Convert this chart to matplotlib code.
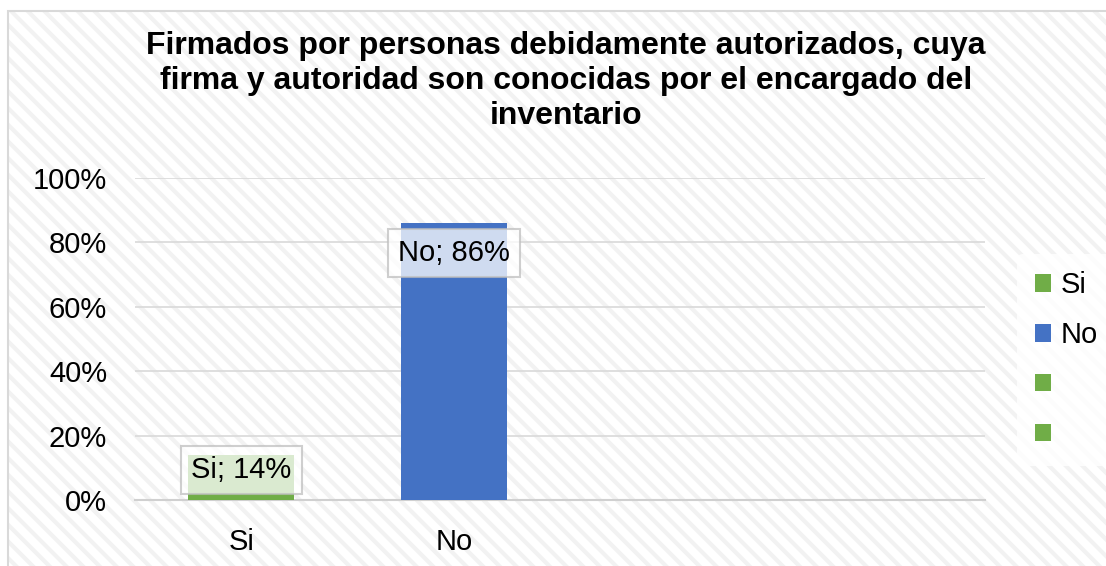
import numpy as np
import matplotlib
matplotlib.use("Agg")
import matplotlib.pyplot as plt
from matplotlib.patches import Rectangle, Patch

plt.rcParams["font.family"] = ["Liberation Sans", "DejaVu Sans"]
plt.rcParams["hatch.linewidth"] = 3.0

# ── datos ─────────────────────────────────────────────
categories = ["Si", "No", "", ""]
values = [0.14, 0.86, 0.0, 0.0]
bar_colors = ["#70AD47", "#4472C4", "#70AD47", "#70AD47"]
data_labels = ["Si; 14%", "No; 86%", None, None]
legend_labels = ["Si", "No", "", ""]
yticks = [0, 0.2, 0.4, 0.6, 0.8, 1.0]
title = ("Firmados por personas debidamente autorizados, cuya\n"
         "firma y autoridad son conocidas por el encargado del\n"
         "inventario")

W, H = 1106, 566
FS = 21
fig = plt.figure(figsize=(W / 100, H / 100), dpi=100)
fig.patch.set_facecolor("white")

# fondo rayado + borde
bg = Rectangle((8 / W, 0), 1.0, 1 - 11 / H, transform=fig.transFigure,
               facecolor="white", edgecolor="#f2f2f2", lw=0, hatch="\\\\",
               zorder=0)
fig.add_artist(bg)
border = Rectangle((8 / W, -0.01), 1.0, 1 - 11 / H + 0.01,
                   transform=fig.transFigure, facecolor="none",
                   edgecolor="#d9d9d9", lw=1.5, zorder=1)
fig.add_artist(border)

ax = fig.add_axes([135 / W, 1 - 500 / H, 850 / W, 322 / H])
ax.patch.set_alpha(0)
x = np.arange(len(categories))
bars = ax.bar(x, values, width=0.5, color=bar_colors, zorder=3)

ax.set_xlim(-0.5, len(categories) - 0.5)
ax.set_ylim(0, 1.0)
ax.set_yticks(yticks)
ax.set_yticklabels([f"{int(round(v * 100))}%" for v in yticks])
ax.set_xticks(x)
ax.set_xticklabels(categories)
ax.tick_params(axis="both", length=0, labelsize=FS)
ax.tick_params(axis="x", pad=20)
ax.tick_params(axis="y", pad=20)
ax.grid(axis="y", color="#d9d9d9", lw=1.2, zorder=0)
for s in ["top", "right", "left"]:
    ax.spines[s].set_visible(False)
ax.spines["bottom"].set_color("#d0d0d0")
ax.spines["bottom"].set_linewidth(1.5)

# etiquetas de datos (dentro del extremo)
offsets = [-15, -30, 0, 0]
for xi, v, lab, off in zip(x, values, data_labels, offsets):
    if lab is None:
        continue
    ax.annotate(lab, (xi, v), xytext=(0, off), textcoords="offset pixels",
                ha="center", va="center", fontsize=FS, zorder=5,
                bbox=dict(boxstyle="square,pad=0.35", fc="white", alpha=0.75,
                          ec="#bfbfbf", lw=1.5))

fig.text(566 / W, 1 - 81 / H, title, ha="center", va="center",
         fontsize=23, fontweight="bold", linespacing=1.2)

handles = [Patch(facecolor=c) for c in bar_colors]
leg = fig.legend(handles, legend_labels, loc="center left",
                 bbox_to_anchor=(1017 / W, 1 - 360 / H), frameon=True,
                 fontsize=FS, handlelength=0.55, handleheight=0.55,
                 handletextpad=0.35, labelspacing=0.75, borderpad=0.6,
                 borderaxespad=0)
leg.get_frame().set_facecolor("white")
leg.get_frame().set_edgecolor("none")
leg.get_frame().set_alpha(0.8)

fig.savefig("out.png", dpi=100)
